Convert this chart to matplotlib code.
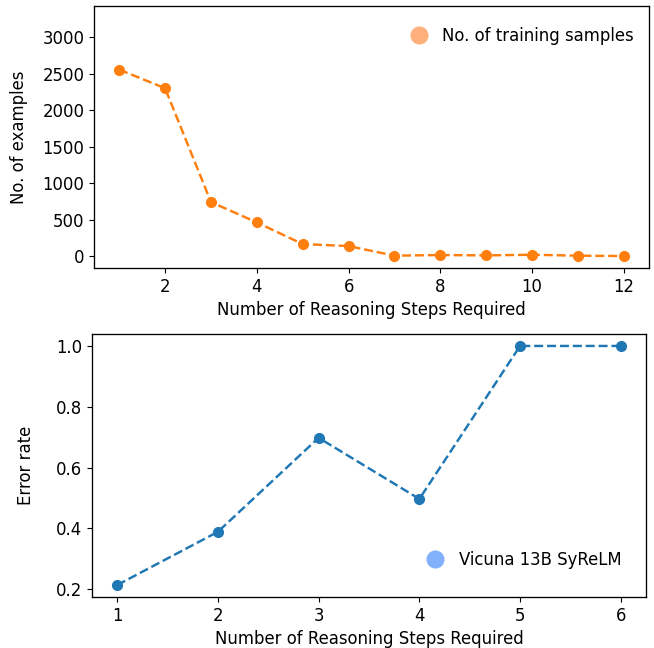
import matplotlib
matplotlib.use("Agg")
import matplotlib.pyplot as plt
from matplotlib.lines import Line2D
from matplotlib.ticker import MultipleLocator

# training sample counts per number of reasoning steps
steps_train = [1, 2, 3, 4, 5, 6, 7, 8, 9, 10, 11, 12]
n_samples = [2557, 2301, 740, 461, 164, 137, 5, 14, 9, 18, 5, 0]

# error rate of Vicuna 13B SyReLM
steps_eval = [1, 2, 3, 4, 5, 6]
error_rate = [0.214, 0.389, 0.698, 0.497, 1.0, 1.0]

plt.rcParams['font.size'] = 11.9
plt.rcParams['lines.linewidth'] = 1.75
plt.rcParams['lines.markersize'] = 7
plt.rcParams['axes.linewidth'] = 0.95

fig = plt.figure(figsize=(6.54, 6.48), dpi=100)

# top plot
ax1 = fig.add_axes([94 / 654, 1 - 268 / 648, 555 / 654, 262 / 648])
ax1.plot(steps_train, n_samples, linestyle='--', marker='o', color='tab:orange')
ax1.set_ylim(-164, 3429)
ax1.yaxis.set_major_locator(MultipleLocator(500))
ax1.xaxis.set_major_locator(MultipleLocator(2))
ax1.set_xlabel("Number of Reasoning Steps Required")
ax1.set_ylabel("No. of examples", labelpad=10)
h1 = Line2D([], [], linestyle='none', marker='o', markersize=12,
            color='#ffb07c', label='No. of training samples')
ax1.legend(handles=[h1], loc='upper right', bbox_to_anchor=(1.0, 0.977),
           frameon=False, handletextpad=0.45)

# bottom plot
ax2 = fig.add_axes([92 / 654, 1 - 597 / 648, 554 / 654, 263 / 648])
ax2.plot(steps_eval, error_rate, linestyle='--', marker='o', color='tab:blue')
ax2.yaxis.set_major_locator(MultipleLocator(0.2))
ax2.set_xlabel("Number of Reasoning Steps Required")
ax2.set_ylabel("Error rate", labelpad=15)
h2 = Line2D([], [], linestyle='none', marker='o', markersize=12,
            color='#82b1fc', label='Vicuna 13B SyReLM')
ax2.legend(handles=[h2], loc='lower right', bbox_to_anchor=(0.982, 0.05),
           frameon=False, handletextpad=0.45)

fig.savefig("out.png", dpi=100)
